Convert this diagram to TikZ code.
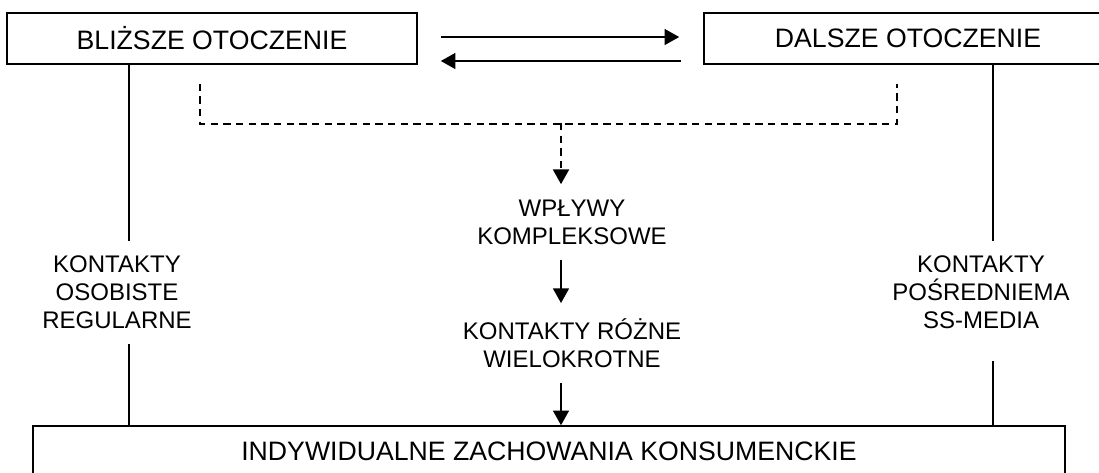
\documentclass[tikz,border=0pt]{standalone}
\usepackage{fontspec}
\setmainfont{Liberation Sans}
\usetikzlibrary{arrows.meta}
\tikzset{
  box/.style={draw, minimum height=38.25pt, inner sep=0pt, font=\fontsize{20}{24}\selectfont},
  lbl/.style={align=center, inner xsep=0pt, inner ysep=11pt, font=\fontsize{18}{21}\selectfont},
  arr/.style={-{Triangle[length=11pt,width=12pt]}},
  dsh/.style={dash pattern=on 5.5pt off 4pt}
}
\begin{document}
\begin{tikzpicture}[x=0.75pt, y=-0.75pt, line width=1.2pt]
  \useasboundingbox (0,0) rectangle (1099,472);
  % boxes
  \node[box, minimum width=307.5pt] (blizsze) at (212,38.5) {BLIŻSZE OTOCZENIE};
  \node[box, minimum width=306pt] (dalsze) at (908,38.5) {DALSZE OTOCZENIE};
  \node[box, minimum width=774pt] (zachowania) at (549,451.5) {INDYWIDUALNE ZACHOWANIA KONSUMENCKIE};
  % labels
  \node[lbl] (osobiste) at (117,292.5) {KONTAKTY\\OSOBISTE\\REGULARNE};
  \node[lbl] (posrednie) at (981,292.5) {KONTAKTY\\POŚREDNIEMA\\SS-MEDIA};
  \node[lbl] (wplywy) at (572,222) {WPŁYWY\\KOMPLEKSOWE};
  \node[lbl] (rozne) at (572,343) {KONTAKTY RÓŻNE\\WIELOKROTNE};
  \coordinate (lx) at (129,0);
  \coordinate (rx) at (993,0);
  \coordinate (split) at (561,123);
  % arrows between the two top boxes
  \draw[arr] ([shift={(23,-1.5)}]blizsze.east) -- ([shift={(-24,-1.5)}]dalsze.west);
  \draw[arr] ([shift={(-22,22.5)}]dalsze.west) -- ([shift={(23,22.5)}]blizsze.east);
  % side lines
  \draw (blizsze.south -| lx) -- (osobiste.north -| lx);
  \draw (osobiste.south -| lx) -- (zachowania.north -| lx);
  \draw (dalsze.south -| rx) -- (posrednie.north -| rx);
  \draw (posrednie.south -| rx) ++(0,17) -- (zachowania.north -| rx);
  % complex influences
  \draw[dsh] ([shift={(-12,19)}]blizsze.south) -- ++(0,40) -| ([shift={(-11,19)}]dalsze.south);
  \draw[dsh, arr] (split) -- (wplywy.north -| split);
  \draw[arr] (wplywy.south -| split) -- (rozne.north -| split);
  \draw[arr] (rozne.south -| split) -- (zachowania.north -| split);
\end{tikzpicture}
\end{document}
